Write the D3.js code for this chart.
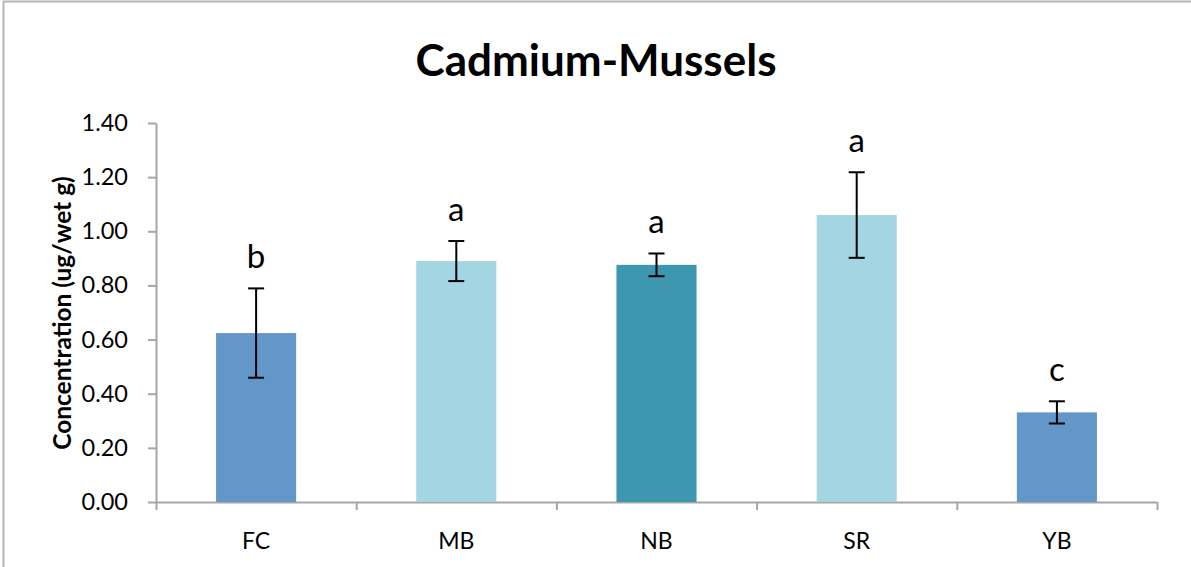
<!DOCTYPE html>
<html>
<head>
  <title>Cadmium-Mussels</title>
  <script src="https://d3js.org/d3.v7.min.js"></script>
  <style>
    body { margin: 0; background: #fff; font-family: Lato, "Open Sans", sans-serif; }
    #chart { width: 1191px; height: 567px; }
  </style>
</head>
<body>
  <div id="chart"></div>
  <script>
    // data
    let sites = ['FC', 'MB', 'NB', 'SR', 'YB'];
    let means = [0.624, 0.890, 0.876, 1.060, 0.331];
    let errors = [0.165, 0.074, 0.042, 0.158, 0.041];
    let groups = ['b', 'a', 'a', 'a', 'c'];
    let barColors = ['#6397CA', '#A4D5E3', '#3D97AE', '#A4D5E3', '#6397CA'];
    let yTicks = [0, 0.2, 0.4, 0.6, 0.8, 1.0, 1.2, 1.4];

    let width = 1191, height = 567;
    let margin = { top: 123, right: 34, bottom: 65, left: 156 };
    let innerW = width - margin.left - margin.right;
    let innerH = height - margin.top - margin.bottom;

    let svg = d3.select('#chart').append('svg')
      .attr('width', width)
      .attr('height', height);

    // outer frame (only left/top visible in the picture)
    svg.append('path')
      .attr('d', 'M3.5,' + height + 'V1.5H' + width)
      .attr('fill', 'none')
      .attr('stroke', '#b5b5b5')
      .attr('stroke-width', 2);

    svg.append('text')
      .attr('x', 596)
      .attr('y', 76)
      .attr('text-anchor', 'middle')
      .style('font-size', '44px')
      .style('font-weight', 'bold')
      .text('Cadmium-Mussels');

    let g = svg.append('g')
      .attr('transform', 'translate(' + margin.left + ',' + margin.top + ')');

    let x = d3.scaleBand()
      .domain(sites)
      .range([0, innerW])
      .paddingInner(0.6)
      .paddingOuter(0.3);

    let xTicksScale = d3.scaleLinear().domain([0, sites.length]).range([0, innerW]);

    let y = d3.scaleLinear()
      .domain([0, 1.4])
      .range([innerH, 0]);

    // y axis
    let yAxis = g.append('g')
      .call(d3.axisLeft(y).tickValues(yTicks).tickFormat(d3.format('.2f')).tickSize(8).tickSizeOuter(0).tickPadding(20));
    yAxis.select('.domain').attr('stroke', '#a6a6a6').attr('stroke-width', 2);
    yAxis.selectAll('.tick line').attr('stroke', '#a6a6a6').attr('stroke-width', 2);
    yAxis.selectAll('.tick text').style('font-size', '23.5px').style('font-family', 'Lato, sans-serif').attr('fill', '#000');

    // x axis: ticks at category boundaries
    let xAxis = g.append('g')
      .attr('transform', 'translate(0,' + innerH + ')')
      .call(d3.axisBottom(xTicksScale).ticks(sites.length).tickFormat('').tickSize(8).tickSizeOuter(0));
    xAxis.select('.domain').attr('stroke', '#a6a6a6').attr('stroke-width', 2);
    xAxis.selectAll('.tick line').attr('stroke', '#a6a6a6').attr('stroke-width', 2);

    g.selectAll('.xlabel')
      .data(sites)
      .enter()
      .append('text')
      .attr('class', 'xlabel')
      .attr('x', d => x(d) + x.bandwidth() / 2)
      .attr('y', innerH + 47)
      .attr('text-anchor', 'middle')
      .style('font-size', '23px')
      .text(d => d);

    // bars
    g.selectAll('.bar')
      .data(sites)
      .enter()
      .append('rect')
      .attr('class', 'bar')
      .attr('x', d => x(d))
      .attr('y', (d, i) => y(means[i]))
      .attr('width', x.bandwidth())
      .attr('height', (d, i) => innerH - y(means[i]))
      .attr('fill', (d, i) => barColors[i]);

    // error bars
    let cap = 8;
    let err = g.selectAll('.err')
      .data(sites)
      .enter()
      .append('g')
      .attr('class', 'err')
      .attr('stroke', '#000')
      .attr('stroke-width', 2);
    err.append('line')
      .attr('x1', d => x(d) + x.bandwidth() / 2)
      .attr('x2', d => x(d) + x.bandwidth() / 2)
      .attr('y1', (d, i) => y(means[i] + errors[i]))
      .attr('y2', (d, i) => y(means[i] - errors[i]));
    err.append('line')
      .attr('x1', d => x(d) + x.bandwidth() / 2 - cap)
      .attr('x2', d => x(d) + x.bandwidth() / 2 + cap)
      .attr('y1', (d, i) => y(means[i] + errors[i]))
      .attr('y2', (d, i) => y(means[i] + errors[i]));
    err.append('line')
      .attr('x1', d => x(d) + x.bandwidth() / 2 - cap)
      .attr('x2', d => x(d) + x.bandwidth() / 2 + cap)
      .attr('y1', (d, i) => y(means[i] - errors[i]))
      .attr('y2', (d, i) => y(means[i] - errors[i]));

    // significance letters
    g.selectAll('.grp')
      .data(sites)
      .enter()
      .append('text')
      .attr('class', 'grp')
      .attr('x', d => x(d) + x.bandwidth() / 2)
      .attr('y', (d, i) => y(means[i] + errors[i]) - 20)
      .attr('text-anchor', 'middle')
      .style('font-size', '33px')
      .text((d, i) => groups[i]);

    // y axis title
    svg.append('text')
      .attr('transform', 'translate(71,' + 313 + ') rotate(-90)')
      .attr('text-anchor', 'middle')
      .style('font-size', '24.5px')
      .style('font-weight', 'bold')
      .text('Concentration (ug/wet g)');
  </script>
</body>
</html>
